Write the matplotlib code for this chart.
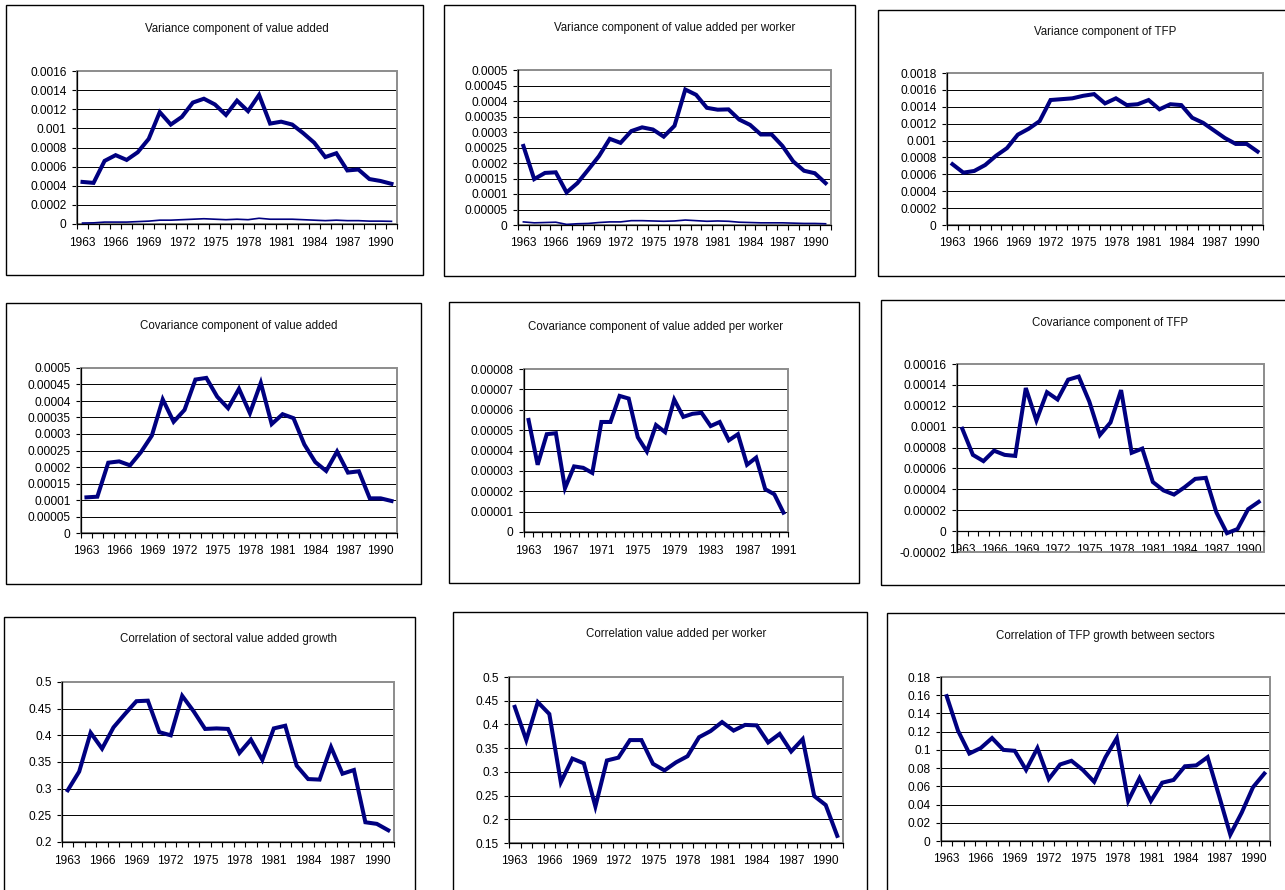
import numpy as np
import matplotlib
matplotlib.use('Agg')
import matplotlib.pyplot as plt
from matplotlib.patches import Rectangle
plt.rcParams['font.family'] = ['Liberation Sans', 'DejaVu Sans']

years = np.arange(1963, 1992)

# Variance / covariance components and correlations, 1963-1991
var_va = [0.00044, 0.00043, 0.00066, 0.00072, 0.00067, 0.00075, 0.00089, 0.00117, 0.00104, 0.00112,
          0.00127, 0.00131, 0.00125, 0.00114, 0.00129, 0.00118, 0.00135, 0.00105, 0.00107, 0.00104,
          0.00095, 0.00085, 0.00070, 0.00074, 0.00056, 0.00057, 0.00047, 0.00045, 0.00042]
var_va_small = [0.000010, 0.000012, 0.000020, 0.000020, 0.000020, 0.000025, 0.000030, 0.000040, 0.000040, 0.000045,
                0.000050, 0.000055, 0.000050, 0.000045, 0.000050, 0.000045, 0.000060, 0.000050, 0.000050, 0.000050,
                0.000045, 0.000040, 0.000035, 0.000040, 0.000035, 0.000035, 0.000030, 0.000030, 0.000028]
var_vapw = [0.000255, 0.000148, 0.000168, 0.000170, 0.000105, 0.000135, 0.000178, 0.000222, 0.000278, 0.000265,
            0.000303, 0.000315, 0.000308, 0.000285, 0.000320, 0.000437, 0.000420, 0.000378, 0.000372, 0.000373,
            0.000340, 0.000323, 0.000292, 0.000292, 0.000255, 0.000205, 0.000175, 0.000167, 0.000135]
var_vapw_small = [0.000010, 0.000007, 0.000008, 0.000009, 0.000002, 0.000004, 0.000005, 0.000008, 0.000010, 0.000010,
                  0.000014, 0.000014, 0.000013, 0.000012, 0.000013, 0.000016, 0.000014, 0.000012, 0.000013, 0.000012,
                  0.000009, 0.000008, 0.000007, 0.000007, 0.000007, 0.000006, 0.000005, 0.000005, 0.000004]
var_tfp = [0.00072, 0.00062, 0.00064, 0.00071, 0.00082, 0.00091, 0.00107, 0.00114, 0.00123, 0.00148,
           0.00149, 0.00150, 0.00153, 0.00155, 0.00144, 0.00150, 0.00142, 0.00143, 0.00148, 0.00137,
           0.00143, 0.00142, 0.00127, 0.00121, 0.00112, 0.00103, 0.00096, 0.00096, 0.00087]
cov_va = [0.000108, 0.000110, 0.000213, 0.000217, 0.000205, 0.000245, 0.000295, 0.000405, 0.000337, 0.000373,
          0.000465, 0.000470, 0.000413, 0.000378, 0.000437, 0.000363, 0.000455, 0.000330, 0.000360, 0.000348,
          0.000268, 0.000215, 0.000188, 0.000247, 0.000183, 0.000187, 0.000105, 0.000105, 0.000097]
cov_vapw = [0.0000550, 0.0000330, 0.0000480, 0.0000485, 0.0000215, 0.0000322, 0.0000315, 0.0000290, 0.0000540, 0.0000540,
            0.0000668, 0.0000655, 0.0000465, 0.0000395, 0.0000525, 0.0000490, 0.0000650, 0.0000565, 0.0000580, 0.0000585,
            0.0000520, 0.0000540, 0.0000450, 0.0000480, 0.0000330, 0.0000365, 0.0000210, 0.0000185, 0.0000095]
cov_tfp = [0.000098, 0.000073, 0.000067, 0.000077, 0.000073, 0.000072, 0.000137, 0.000106, 0.000133, 0.000126,
           0.000145, 0.000148, 0.000124, 0.000092, 0.000104, 0.000135, 0.000075, 0.000079, 0.000047, 0.000039,
           0.000035, 0.000042, 0.000050, 0.000051, 0.000018, -0.000002, 0.000002, 0.000021, 0.000028]
corr_va = [0.297, 0.332, 0.405, 0.375, 0.415, 0.440, 0.464, 0.465, 0.406, 0.400,
           0.474, 0.445, 0.412, 0.413, 0.412, 0.367, 0.392, 0.354, 0.413, 0.418,
           0.343, 0.318, 0.317, 0.378, 0.328, 0.335, 0.237, 0.234, 0.222]
corr_vapw = [0.437, 0.367, 0.447, 0.422, 0.278, 0.328, 0.318, 0.227, 0.324, 0.330,
             0.367, 0.367, 0.317, 0.303, 0.320, 0.333, 0.373, 0.386, 0.405, 0.387,
             0.399, 0.398, 0.362, 0.380, 0.343, 0.369, 0.249, 0.230, 0.165]
corr_tfp = [0.159, 0.121, 0.096, 0.102, 0.113, 0.100, 0.099, 0.078, 0.102, 0.068,
            0.084, 0.088, 0.078, 0.065, 0.092, 0.113, 0.044, 0.069, 0.044, 0.064,
            0.067, 0.082, 0.083, 0.092, 0.050, 0.007, 0.031, 0.059, 0.074]

W, H = 1285, 890
NAVY = '#000080'

# box = outer frame (l, t, r, b), plot = plot area (l, t, r, b), all in pixels
panels = [
    dict(title='Variance component of value added', series=[var_va], thin=var_va_small,
         ylim=(0, 0.0016), ystep=0.0002, xstep=3,
         box=(6, 5, 423, 275), plot=(77, 71, 397, 224), ty=29),
    dict(title='Variance component of value added per worker', series=[var_vapw], thin=var_vapw_small,
         ylim=(0, 0.0005), ystep=0.00005, xstep=3,
         box=(444, 5, 855, 276), plot=(518, 70, 831, 225), ty=28),
    dict(title='Variance component of TFP', series=[var_tfp], thin=None,
         ylim=(0, 0.0018), ystep=0.0002, xstep=3,
         box=(878, 10, 1300, 276), plot=(947, 73, 1263, 225), ty=32),
    dict(title='Covariance component of value added', series=[cov_va], thin=None,
         ylim=(0, 0.0005), ystep=0.00005, xstep=3,
         box=(6, 303, 421, 584), plot=(81, 368, 397, 533), ty=326),
    dict(title='Covariance component of value added per worker', series=[cov_vapw], thin=None,
         ylim=(0, 0.00008), ystep=0.00001, xstep=4,
         box=(449, 302, 859, 583), plot=(524, 369, 788, 532), ty=327),
    dict(title='Covariance component of TFP', series=[cov_tfp], thin=None,
         ylim=(-0.00002, 0.00016), ystep=0.00002, xstep=3,
         box=(881, 300, 1300, 585), plot=(957, 364, 1264, 552), ty=323),
    dict(title='Correlation of sectoral value added growth', series=[corr_va], thin=None,
         ylim=(0.2, 0.5), ystep=0.05, xstep=3,
         box=(4, 617, 415, 900), plot=(62, 682, 394, 842), ty=639),
    dict(title='Correlation value added per worker', series=[corr_vapw], thin=None,
         ylim=(0.15, 0.5), ystep=0.05, xstep=3,
         box=(453, 612, 867, 900), plot=(509, 677, 843, 843), ty=634),
    dict(title='Correlation of TFP growth between sectors', series=[corr_tfp], thin=None,
         ylim=(0, 0.18), ystep=0.02, xstep=3,
         box=(887, 613, 1300, 900), plot=(941, 677, 1270, 841), ty=636),
]


def fmt(v):
    s = f'{v:.6f}'.rstrip('0').rstrip('.')
    return '0' if s in ('', '-0') else s


fig = plt.figure(figsize=(W / 100, H / 100), dpi=100)
fig.patch.set_facecolor('white')

for p in panels:
    bl, bt, br, bb = p['box']
    fig.patches.append(Rectangle((bl / W, 1 - bb / H), (br - bl) / W, (bb - bt) / H,
                                 transform=fig.transFigure, fill=False,
                                 edgecolor='black', lw=1.0, zorder=0))
    pl, pt, pr, pb = p['plot']
    ax = fig.add_axes([pl / W, 1 - pb / H, (pr - pl) / W, (pb - pt) / H])
    fig.text((pl + pr) / 2 / W, 1 - p['ty'] / H, p['title'],
             ha='center', va='center', fontsize=8.3, color='#111111')

    y0, y1 = p['ylim']
    yt = np.round(np.arange(y0, y1 + p['ystep'] / 2, p['ystep']), 8)
    ax.set_ylim(y0, y1)
    ax.set_xlim(1962.5, 1991.5)
    ax.set_yticks(yt)
    ax.set_yticklabels([fmt(v) for v in yt])
    for v in yt[1:-1]:
        ax.axhline(v, color='black', lw=0.7, zorder=1)

    # gray plot-area frame
    ax.add_patch(Rectangle((0, 0), 1, 1, transform=ax.transAxes, fill=False,
                           edgecolor='#8c8c8c', lw=1.4, zorder=2, clip_on=False))
    for s in ('top', 'right'):
        ax.spines[s].set_visible(False)
    for s in ('left', 'bottom'):
        ax.spines[s].set_color('black')
        ax.spines[s].set_linewidth(0.9)
        ax.spines[s].set_zorder(3)
    if y0 < 0:
        ax.spines['bottom'].set_position(('data', 0))

    ax.set_xticks(years[::p['xstep']])
    ax.set_xticklabels([str(y) for y in years[::p['xstep']]])
    ax.set_xticks(np.arange(1962.5, 1992.0, 1.0), minor=True)
    ax.tick_params(axis='x', which='major', length=0, pad=9, labelsize=8.6)
    ax.tick_params(axis='x', which='minor', length=3.5, width=0.8, direction='out')
    ax.tick_params(axis='y', length=3.5, width=0.8, direction='out', pad=4, labelsize=8.6)

    for ser in p['series']:
        ax.plot(years, ser, color=NAVY, lw=2.9, solid_joinstyle='miter', zorder=4)
    if p['thin'] is not None:
        ax.plot(years, p['thin'], color=NAVY, lw=1.2, zorder=4)
    ax.set_facecolor('white')

fig.savefig('out.png', dpi=100, facecolor='white')
